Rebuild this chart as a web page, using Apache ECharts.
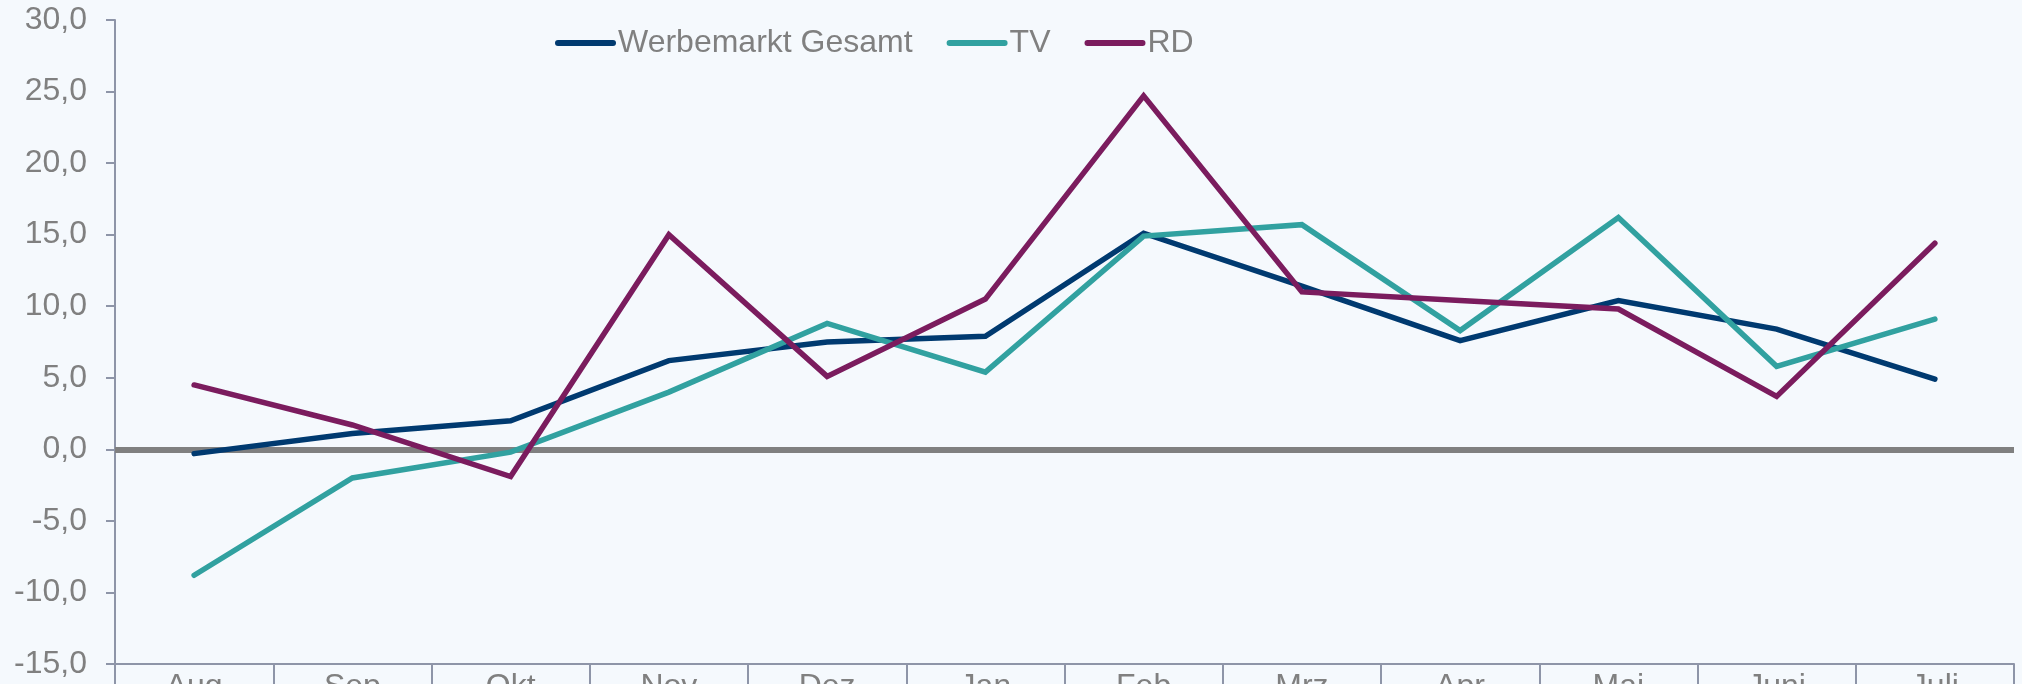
<!DOCTYPE html>
<html>
<head>
<meta charset="utf-8">
<script src="https://cdn.jsdelivr.net/npm/echarts@6/dist/echarts.min.js"></script>
<style>
html,body{margin:0;padding:0;background:#F5F9FD;}
#c{width:2022px;height:684px;}
</style>
</head>
<body>
<div id="c"></div>
<script>
const categories = ['Aug','Sep','Okt','Nov','Dez','Jan','Feb','Mrz','Apr','Mai','Juni','Juli'];
const werbemarkt = [-0.3, 1.1, 2.0, 6.2, 7.5, 7.9, 15.1, 11.4, 7.6, 10.4, 8.4, 4.9];
const tv = [-8.8, -2.0, -0.2, 4.0, 8.8, 5.4, 14.9, 15.7, 8.3, 16.2, 5.8, 9.1];
const rd = [4.5, 1.7, -1.9, 15.0, 5.1, 10.5, 24.7, 11.0, 10.4, 9.8, 3.7, 14.4];
const seriesNames = ['Werbemarkt Gesamt', 'TV', 'RD'];
const yTicks = {min: -15, max: 30, interval: 5};

const FONT = '"Liberation Sans", Arial, sans-serif';
const TXT = '#808080';
const AX = '#8E95A8';
const colors = ['#003A70', '#31A1A0', '#7B1C5E'];

const chart = echarts.init(document.getElementById('c'), null, {renderer: 'canvas'});
function lineSeries(name, data, color) {
  return {
    name: name, type: 'line', data: data, symbol: 'none', z: 3,
    lineStyle: {color: color, width: 5.5, cap: 'round', join: 'miter'},
    itemStyle: {color: color},
    emphasis: {disabled: true}
  };
}
chart.setOption({
  animation: false,
  backgroundColor: '#F5F9FD',
  textStyle: {fontFamily: FONT},
  grid: {left: 115, right: 8, top: 20, bottom: 20, containLabel: false, outerBoundsMode: 'none'},
  legend: {
    data: seriesNames,
    orient: 'horizontal',
    left: 550, top: 22,
    itemWidth: 55, itemHeight: 14, itemGap: 34,
    textStyle: {color: TXT, fontSize: 32, fontFamily: FONT, lineHeight: 32},
    lineStyle: {width: 6, cap: 'round'},
    itemStyle: {opacity: 0}
  },
  xAxis: {
    type: 'category', data: categories, boundaryGap: true,
    axisLine: {show: true, onZero: false, lineStyle: {color: AX, width: 2}},
    axisTick: {show: true, length: 30, lineStyle: {color: AX, width: 2}},
    axisLabel: {color: TXT, fontSize: 32, fontFamily: FONT, margin: 7},
    splitLine: {show: false}
  },
  yAxis: {
    type: 'value', min: yTicks.min, max: yTicks.max, interval: yTicks.interval,
    axisLine: {show: true, lineStyle: {color: AX, width: 2}},
    axisTick: {show: true, length: 9, lineStyle: {color: AX, width: 2}},
    axisLabel: {color: TXT, fontSize: 32, fontFamily: FONT, margin: 28,
      formatter: v => v.toFixed(1).replace('.', ',')},
    splitLine: {show: false}
  },
  series: [
    {
      name: 'zero', type: 'line', data: [], z: 1, silent: true,
      markLine: {
        silent: true, symbol: ['none','none'], z: 1,
        label: {show: false},
        lineStyle: {color: '#808080', width: 6, type: 'solid'},
        data: [{yAxis: 0}]
      }
    },
    lineSeries(seriesNames[0], werbemarkt, colors[0]),
    lineSeries(seriesNames[1], tv, colors[1]),
    lineSeries(seriesNames[2], rd, colors[2])
  ]
});
</script>
</body>
</html>
